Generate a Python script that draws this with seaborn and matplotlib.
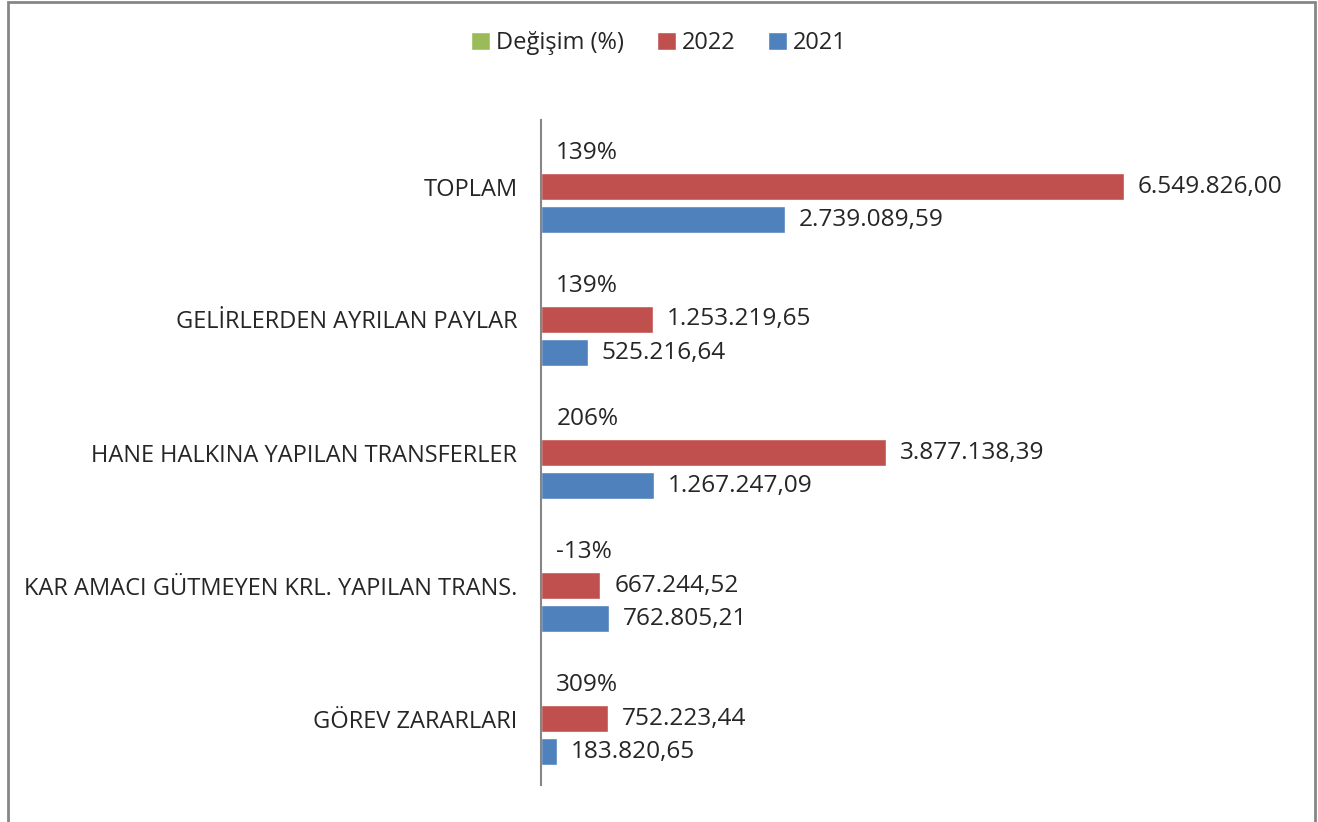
import pandas as pd
import matplotlib.pyplot as plt
import seaborn as sns
from matplotlib.patches import Rectangle

# chart values
categories = [
    "TOPLAM",
    "GELİRLERDEN AYRILAN PAYLAR",
    "HANE HALKINA YAPILAN TRANSFERLER",
    "KAR AMACI GÜTMEYEN KRL. YAPILAN TRANS.",
    "GÖREV ZARARLARI",
]
degisim = [1.39, 1.39, 2.06, -0.13, 3.09]
values_2022 = [6549826.00, 1253219.65, 3877138.39, 667244.52, 752223.44]
values_2021 = [2739089.59, 525216.64, 1267247.09, 762805.21, 183820.65]
series_names = ["Değişim (%)", "2022", "2021"]
colors = ["#9BBB59", "#C0504D", "#4F81BD"]


def tr_fmt(v):
    s = f"{v:,.2f}"
    return s.replace(",", "X").replace(".", ",").replace("X", ".")


df = pd.DataFrame({
    "Kalem": categories * 3,
    "Seri": [series_names[0]] * 5 + [series_names[1]] * 5 + [series_names[2]] * 5,
    "Deger": degisim + values_2022 + values_2021,
})

sns.set_style("white")
plt.rcParams["font.family"] = ["Open Sans", "DejaVu Sans"]
FS = 17
FS_VAL = 17.6

fig = plt.figure(figsize=(13.18, 8.22), dpi=100)
ax = fig.add_axes([541 / 1318, 1 - 785 / 822, (1164 - 541) / 1318, 665 / 822])

sns.barplot(data=df, y="Kalem", x="Deger", hue="Seri", hue_order=series_names,
            palette=colors, orient="h", width=0.75, gap=0.2, ax=ax,
            saturation=1, errorbar=None)

ax.set_xlim(0, 7000000)
ax.set_ylim(4.5, -0.5)
ax.set_xlabel("")
ax.set_ylabel("")
ax.set_xticks([])
for side in ["top", "right", "bottom"]:
    ax.spines[side].set_visible(False)
ax.spines["left"].set_color("#868686")
ax.spines["left"].set_linewidth(1.5)
ax.tick_params(axis="y", length=0, pad=17, labelsize=FS)

# data labels
for bar, d in zip(ax.containers[0], degisim):
    ax.annotate(f"{round(d * 100)}%", xy=(0, bar.get_y() + bar.get_height() / 2),
                xytext=(11, 0), textcoords="offset points", va="center",
                ha="left", fontsize=FS_VAL)
ax.bar_label(ax.containers[1], labels=[tr_fmt(v) for v in values_2022],
             padding=10, fontsize=FS_VAL)
ax.bar_label(ax.containers[2], labels=[tr_fmt(v) for v in values_2021],
             padding=10, fontsize=FS_VAL)

handles, labels = ax.get_legend_handles_labels()
ax.legend_.remove()
fig.legend(handles, labels, loc="center", bbox_to_anchor=(0.5, 1 - 43 / 822),
           ncol=3, frameon=False, fontsize=FS, handlelength=0.8,
           handleheight=0.8, handletextpad=0.25, columnspacing=1.4)

# chart border
fig.patches.append(Rectangle((8 / 1318, -0.05), (1315 - 8) / 1318, 1.05 - 2 / 822,
                             transform=fig.transFigure, fill=False,
                             edgecolor="#868686", linewidth=2))

fig.savefig("out.png", dpi=100)
